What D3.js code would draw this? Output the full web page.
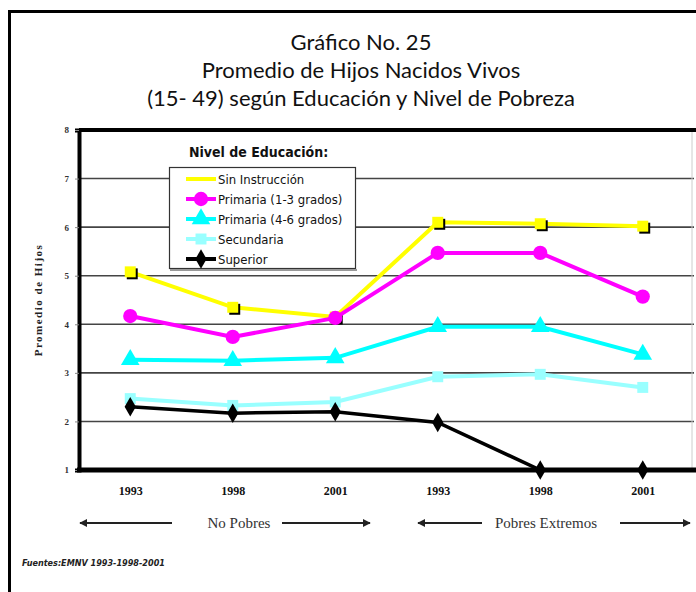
<!DOCTYPE html>
<html>
<head>
<meta charset="utf-8">
<script src="https://cdn.jsdelivr.net/npm/d3@7"></script>
<style>
  body { margin: 0; background: #fff; }
  svg { display: block; }
  .title { font-family: Lato, 'Open Sans', sans-serif; font-size: 22px; fill: #111; }
  .ytick text { font-family: 'Liberation Serif', serif; font-size: 9px; font-weight: bold; fill: #333; }
  .xtick text { font-family: 'Liberation Serif', serif; font-size: 12px; font-weight: bold; fill: #111; }
  .legend text { font-family: 'DejaVu Sans Condensed', 'DejaVu Sans', sans-serif; font-size: 13px; fill: #111; }
</style>
</head>
<body>
<script>

// categories (two poverty groups x three survey years)
var years = ['1993', '1998', '2001', '1993', '1998', '2001'];
var groups = ['No Pobres', 'Pobres Extremos'];
var yTicks = [1, 2, 3, 4, 5, 6, 7, 8];

// series values
var sinInstruccion = [5.08, 4.35, 4.15, 6.1, 6.07, 6.02];
var primaria13 = [4.17, 3.74, 4.13, 5.47, 5.47, 4.57];
var primaria46 = [3.27, 3.25, 3.31, 3.95, 3.95, 3.38];
var secundaria = [2.47, 2.33, 2.4, 2.92, 2.97, 2.7];
var superior = [2.3, 2.17, 2.2, 1.98, 1.0, 1.0];

var seriesNames = ['Sin Instrucción', 'Primaria (1-3 grados)', 'Primaria (4-6 grados)', 'Secundaria', 'Superior'];

var series = [
  {name: seriesNames[0], values: sinInstruccion, color: '#ffff00', shape: 'square', shadow: true},
  {name: seriesNames[1], values: primaria13, color: '#ff00ff', shape: 'circle'},
  {name: seriesNames[2], values: primaria46, color: '#00ffff', shape: 'triangle'},
  {name: seriesNames[3], values: secundaria, color: '#99ffff', shape: 'square'},
  {name: seriesNames[4], values: superior, color: '#000000', shape: 'diamond'}
];

var width = 696, height = 592;
var plot = {left: 79, right: 694, top: 130, bottom: 470};

var svg = d3.select('body').append('svg')
    .attr('width', width)
    .attr('height', height);

// outer frame
svg.append('rect').attr('width', width).attr('height', height).attr('fill', '#fff');
svg.append('path')
    .attr('d', 'M9.5,' + height + 'V11.5H' + width)
    .attr('fill', 'none')
    .attr('stroke', '#000')
    .attr('stroke-width', 3);

// title
var titleLines = ['Gráfico No. 25', 'Promedio de Hijos Nacidos Vivos', '(15- 49) según Educación y Nivel de Pobreza'];
svg.selectAll('.title')
    .data(titleLines)
    .enter().append('text')
    .attr('class', 'title')
    .attr('x', 361)
    .attr('y', function (d, i) { return 50 + i * 28; })
    .attr('text-anchor', 'middle')
    .text(function (d) { return d; });

var x = d3.scalePoint()
    .domain(d3.range(years.length))
    .range([plot.left, plot.right])
    .padding(0.5);

var y = d3.scaleLinear()
    .domain([1, 8])
    .range([plot.bottom, plot.top]);

// gridlines
svg.append('g')
    .selectAll('line')
    .data(yTicks.slice(1, -1))
    .enter().append('line')
    .attr('x1', plot.left)
    .attr('x2', plot.right)
    .attr('y1', function (d) { return y(d); })
    .attr('y2', function (d) { return y(d); })
    .attr('stroke', '#444')
    .attr('stroke-width', 1.6);

// right faint edge
svg.append('line')
    .attr('x1', plot.right - 2).attr('x2', plot.right - 2)
    .attr('y1', plot.top).attr('y2', plot.bottom)
    .attr('stroke', '#ccc').attr('stroke-width', 1);

// top border
svg.append('line')
    .attr('x1', plot.left).attr('x2', width)
    .attr('y1', y(8)).attr('y2', y(8))
    .attr('stroke', '#000').attr('stroke-width', 4);

// y axis
var yAxis = svg.append('g')
    .attr('class', 'ytick')
    .attr('transform', 'translate(' + plot.left + ',0)')
    .call(d3.axisLeft(y).tickValues(yTicks).tickFormat(d3.format('d')).tickSize(4).tickPadding(6));
yAxis.select('.domain').attr('stroke', '#000').attr('stroke-width', 4);
yAxis.selectAll('.tick line').attr('stroke', '#888');

// y title
svg.append('text')
    .attr('transform', 'translate(42,300) rotate(-90)')
    .attr('text-anchor', 'middle')
    .style('font-family', "'Liberation Serif', serif")
    .style('font-size', '11px')
    .style('font-weight', 'bold')
    .style('letter-spacing', '1.5px')
    .attr('fill', '#222')
    .text('Promedio de Hijos');

// x axis
var xAxis = svg.append('g')
    .attr('class', 'xtick')
    .attr('transform', 'translate(0,' + plot.bottom + ')')
    .call(d3.axisBottom(x).tickFormat(function (i) { return years[i]; }).tickSize(0).tickPadding(16));
xAxis.select('.domain').remove();

// lines and markers
var line = d3.line()
    .x(function (d, i) { return x(i); })
    .y(function (d) { return y(d); });

function symbolFor(shape, size) {
  var types = {
    square: d3.symbolSquare,
    circle: d3.symbolCircle,
    triangle: d3.symbolTriangle,
    diamond: d3.symbolDiamond
  };
  return d3.symbol().type(types[shape]).size(size)();
}

var sizes = {square: 120, circle: 160, triangle: 150, diamond: 110};

series.forEach(function (s) {
  svg.append('path')
      .datum(s.values)
      .attr('d', line)
      .attr('fill', 'none')
      .attr('stroke', s.color)
      .attr('stroke-width', s.shape === 'diamond' ? 3.5 : 4);

  var g = svg.append('g');
  if (s.shadow) {
    g.selectAll('.shadow')
        .data(s.values)
        .enter().append('path')
        .attr('transform', function (d, i) { return 'translate(' + (x(i) + 2) + ',' + (y(d) + 2) + ')'; })
        .attr('d', symbolFor(s.shape, sizes[s.shape]))
        .attr('fill', '#000');
  }
  g.selectAll('.mark')
      .data(s.values)
      .enter().append('path')
      .attr('transform', function (d, i) { return 'translate(' + x(i) + ',' + y(d) + ')'; })
      .attr('d', symbolFor(s.shape, sizes[s.shape]))
      .attr('fill', s.color);
});

// bottom axis line on top of markers
svg.append('line')
    .attr('x1', plot.left - 2).attr('x2', width)
    .attr('y1', plot.bottom).attr('y2', plot.bottom)
    .attr('stroke', '#000').attr('stroke-width', 5);

// legend
var legend = svg.append('g').attr('class', 'legend');
legend.append('text')
    .attr('x', 189)
    .attr('y', 157)
    .style('font-size', '14px')
    .style('font-weight', 'bold')
    .text('Nivel de Educación:');

legend.append('rect')
    .attr('x', 169.5).attr('y', 167.5)
    .attr('width', 186).attr('height', 101)
    .attr('fill', '#fff')
    .attr('stroke', '#333')
    .attr('stroke-width', 1.2);
legend.append('line')
    .attr('x1', 170).attr('x2', 357)
    .attr('y1', 270).attr('y2', 270)
    .attr('stroke', '#999').attr('stroke-width', 2);

var items = legend.selectAll('.item')
    .data(series)
    .enter().append('g')
    .attr('class', 'item')
    .attr('transform', function (d, i) { return 'translate(0,' + (179 + i * 20) + ')'; });

items.append('line')
    .attr('x1', 186).attr('x2', 216)
    .attr('stroke', function (d) { return d.color; })
    .attr('stroke-width', 4);
items.filter(function (d) { return !d.shadow; }).append('path')
    .attr('transform', 'translate(201,0)')
    .attr('d', function (d) { return symbolFor(d.shape, sizes[d.shape]); })
    .attr('fill', function (d) { return d.color; });
items.append('text')
    .attr('x', 218)
    .attr('y', 4.5)
    .text(function (d) { return d.name; });

// poverty group arrows
var arrowRow = 523;
var groupSpans = [
  {label: groups[0], left: [80, 172], right: [282, 370], cx: 239},
  {label: groups[1], left: [418, 482], right: [620, 690], cx: 546}
];

var defs = svg.append('defs');
defs.append('marker')
    .attr('id', 'head')
    .attr('viewBox', '0 0 10 10')
    .attr('refX', 9).attr('refY', 5)
    .attr('markerWidth', 4).attr('markerHeight', 4)
    .attr('orient', 'auto-start-reverse')
    .append('path')
    .attr('d', 'M0,0L10,5L0,10z')
    .attr('fill', '#222');

groupSpans.forEach(function (gs) {
  svg.append('line')
      .attr('x1', gs.left[1]).attr('x2', gs.left[0])
      .attr('y1', arrowRow).attr('y2', arrowRow)
      .attr('stroke', '#222').attr('stroke-width', 2)
      .attr('marker-end', 'url(#head)');
  svg.append('line')
      .attr('x1', gs.right[0]).attr('x2', gs.right[1])
      .attr('y1', arrowRow).attr('y2', arrowRow)
      .attr('stroke', '#222').attr('stroke-width', 2)
      .attr('marker-end', 'url(#head)');
  svg.append('text')
      .attr('x', gs.cx)
      .attr('y', arrowRow + 5)
      .attr('text-anchor', 'middle')
      .style('font-family', "'Liberation Serif', serif")
      .style('font-size', '15px')
      .attr('fill', '#333')
      .text(gs.label);
});

// source note
svg.append('text')
    .attr('x', 22)
    .attr('y', 566)
    .style('font-family', "'DejaVu Sans Condensed', sans-serif")
    .style('font-size', '9px')
    .style('font-weight', 'bold')
    .style('font-style', 'italic')
    .attr('fill', '#222')
    .text('Fuentes:EMNV 1993-1998-2001');

</script>
</body>
</html>
